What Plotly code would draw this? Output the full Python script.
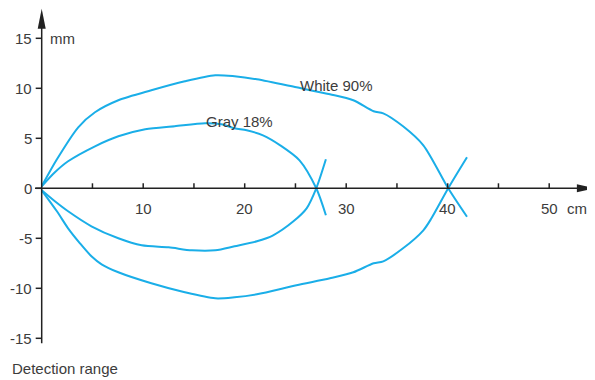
import plotly.graph_objects as go

# ---- data ----
white_upper_x = [0, 1.5, 3.6, 5.25, 7.55, 10.8, 14.1, 17.1, 19.0, 21.2, 25.1, 28.4, 30.7, 32.7, 33.65, 35.6, 37.6, 40.05, 41.9]
white_upper_y = [0.2, 2.9, 6.1, 7.6, 8.8, 9.8, 10.7, 11.3, 11.2, 10.9, 10.1, 9.4, 8.8, 7.7, 7.5, 6.2, 4.3, 0.0, -2.85]
white_lower_x = [0, 1.5, 2.6, 3.77, 4.9, 5.9, 7.55, 10.8, 14.1, 17.1, 19.0, 21.2, 25.1, 28.4, 30.7, 32.7, 33.65, 35.6, 37.6, 38.4, 40.05, 41.9]
white_lower_y = [-0.2, -2.3, -4.0, -5.5, -6.8, -7.6, -8.4, -9.5, -10.4, -11.0, -10.9, -10.6, -9.7, -9.0, -8.4, -7.5, -7.3, -6.0, -4.2, -3.0, 0.0, 3.1]
gray_upper_x = [0, 1.3, 2.6, 5.25, 7.55, 10.2, 13.1, 16.1, 17.7, 19.0, 20.2, 21.8, 23.5, 25.4, 27.05, 28.0]
gray_upper_y = [0.2, 1.6, 2.7, 4.2, 5.2, 5.9, 6.2, 6.5, 6.4, 6.0, 5.8, 5.3, 4.3, 2.8, 0.0, -2.7]
gray_lower_x = [0, 1.3, 2.6, 4.9, 7.55, 9.85, 12.5, 14.8, 17.1, 19.0, 21.2, 22.8, 24.8, 26.1, 27.05, 28.0]
gray_lower_y = [-0.2, -1.3, -2.3, -3.8, -5.0, -5.7, -5.9, -6.2, -6.2, -5.8, -5.3, -4.7, -3.3, -2.0, 0.0, 2.9]

x_major_ticks = [10, 20, 30, 40, 50]
x_minor_ticks = [5, 15, 25, 35, 45]
y_ticks = [-15, -10, -5, 0, 5, 10, 15]
y_tick_labels = ["-15", "-10", "-5", "0", "5", "10", "15"]
x_unit = "cm"
y_unit = "mm"
white_label = "White 90%"
gray_label = "Gray 18%"
title_text = "Detection range"

LINE_COLOR = "#1aaee8"
AXIS_COLOR = "#222222"
TEXT_COLOR = "#3c3c3c"
FONT = "Liberation Sans, Arial, Helvetica, sans-serif"

# the page body adds an 8px offset, ranges compensate for it
X_MIN, X_MAX = -3.32, 55.30
Y_MIN, Y_MAX = -19.97, 18.03
X_AXIS_START, X_ARROW_TIP = -0.66, 54.5
Y_AXIS_START, Y_ARROW_TIP = -15.5, 17.95

fig = go.Figure()
for xs, ys in [(white_upper_x, white_upper_y), (white_lower_x, white_lower_y),
               (gray_upper_x, gray_upper_y), (gray_lower_x, gray_lower_y)]:
    fig.add_trace(go.Scatter(x=xs, y=ys, mode="lines",
                             line=dict(color=LINE_COLOR, width=2, shape="spline", smoothing=0.8),
                             hoverinfo="skip", showlegend=False))

shapes = []
shapes.append(dict(type="line", xref="x", yref="y", x0=X_AXIS_START, x1=X_ARROW_TIP - 1.5, y0=0, y1=0,
                   line=dict(color=AXIS_COLOR, width=1.5)))
shapes.append(dict(type="line", xref="x", yref="y", x0=0, x1=0, y0=Y_AXIS_START, y1=Y_ARROW_TIP - 1.5,
                   line=dict(color=AXIS_COLOR, width=1.5)))
shapes.append(dict(type="path", xref="x", yref="y", xsizemode="pixel", ysizemode="pixel",
                   xanchor=X_ARROW_TIP, yanchor=0,
                   path="M 0,0 L -18,4 L -18,-4 Z", fillcolor=AXIS_COLOR, line=dict(width=0)))
shapes.append(dict(type="path", xref="x", yref="y", xsizemode="pixel", ysizemode="pixel",
                   xanchor=0, yanchor=Y_ARROW_TIP,
                   path="M 0,0 L -4,-20 L 4,-20 Z", fillcolor=AXIS_COLOR, line=dict(width=0)))
for t in x_major_ticks + x_minor_ticks:
    shapes.append(dict(type="line", xref="x", yref="y", ysizemode="pixel", yanchor=0,
                       x0=t, x1=t, y0=0, y1=5, line=dict(color=AXIS_COLOR, width=1.5)))
for t in y_ticks:
    shapes.append(dict(type="line", xref="x", yref="y", xsizemode="pixel", xanchor=0,
                       x0=-6, x1=0, y0=t, y1=t, line=dict(color=AXIS_COLOR, width=1.5)))

annotations = []
for t in x_major_ticks:
    annotations.append(dict(x=t, y=0, xref="x", yref="y", text=str(t), showarrow=False,
                            yshift=-20, font=dict(size=15, color=TEXT_COLOR, family=FONT)))
annotations.append(dict(x=50, y=0, xref="x", yref="y", text=x_unit, showarrow=False,
                        xanchor="left", xshift=16, yshift=-20, font=dict(size=15, color=TEXT_COLOR, family=FONT)))
for t, lab in zip(y_ticks, y_tick_labels):
    annotations.append(dict(x=0, y=t, xref="x", yref="y", text=lab, showarrow=False,
                            xanchor="right", xshift=-8, font=dict(size=15, color=TEXT_COLOR, family=FONT)))
annotations.append(dict(x=0, y=15, xref="x", yref="y", text=y_unit, showarrow=False,
                        xanchor="left", xshift=6, font=dict(size=15, color=TEXT_COLOR, family=FONT)))
annotations.append(dict(x=29.0, y=10.3, xref="x", yref="y", text=white_label, showarrow=False,
                        font=dict(size=15, color=TEXT_COLOR, family=FONT)))
annotations.append(dict(x=19.45, y=6.7, xref="x", yref="y", text=gray_label, showarrow=False,
                        font=dict(size=15, color=TEXT_COLOR, family=FONT)))
annotations.append(dict(x=2 / 595, y=20 / 380, xref="paper", yref="paper", text=title_text, showarrow=False,
                        xanchor="left", yanchor="middle", font=dict(size=15, color=TEXT_COLOR, family=FONT)))

fig.update_layout(
    width=595, height=380,
    margin=dict(l=0, r=0, t=0, b=0),
    paper_bgcolor="white", plot_bgcolor="white",
    xaxis=dict(range=[X_MIN, X_MAX], visible=False, fixedrange=True),
    yaxis=dict(range=[Y_MIN, Y_MAX], visible=False, fixedrange=True),
    shapes=shapes, annotations=annotations, showlegend=False,
)

fig.write_html("out.html")
